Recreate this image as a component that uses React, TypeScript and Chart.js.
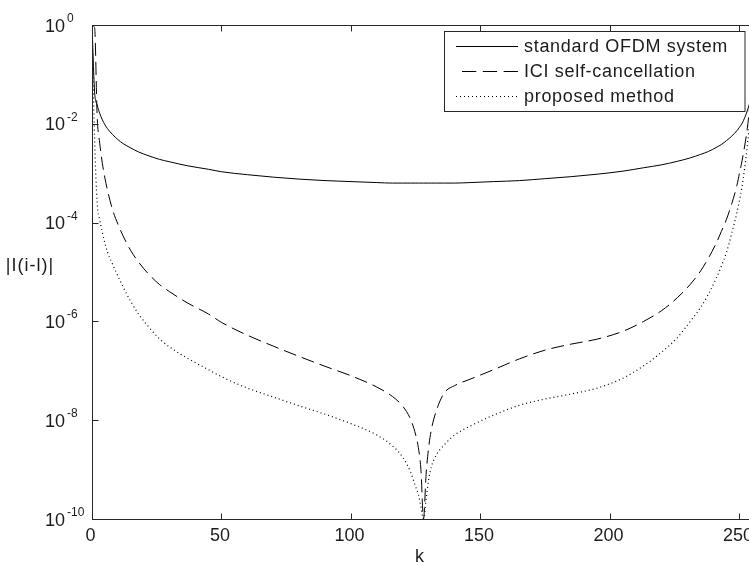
import React, { useEffect, useRef } from "react";
import { Chart, registerables } from "chart.js";

Chart.register(...registerables);

// subcarrier index k
const kValues = [
  0, 1, 2, 3, 4, 5, 6, 8, 10, 12, 15, 18, 22, 26, 30, 37, 45, 50, 60, 70, 80, 90, 100, 110,
  116, 120, 123, 125, 126, 127, 128, 129, 130, 131, 133, 136, 140,
  146, 155, 165, 175, 185, 195, 205, 213, 220, 226, 231, 235, 238, 241, 243, 245, 247, 249, 250, 251, 252, 253, 254, 255,
];

const standardOFDM = [
  9.77e-1, 4.47e-2, 2.4e-2, 1.62e-2, 1.2e-2, 9.55e-3, 7.94e-3, 6.03e-3, 4.79e-3, 3.98e-3, 3.24e-3, 2.69e-3,
  2.24e-3, 1.91e-3, 1.7e-3, 1.41e-3, 1.2e-3, 1.07e-3, 9.33e-4, 8.32e-4, 7.59e-4, 7.08e-4, 6.76e-4, 6.46e-4,
  6.31e-4, 6.31e-4, 6.31e-4, 6.31e-4, 6.31e-4, 6.31e-4, 6.31e-4, 6.31e-4, 6.31e-4, 6.31e-4, 6.31e-4, 6.31e-4, 6.31e-4,
  6.46e-4, 6.76e-4, 7.08e-4, 7.76e-4, 8.51e-4, 9.55e-4, 1.1e-3, 1.29e-3, 1.48e-3, 1.74e-3, 2.04e-3, 2.4e-3,
  2.75e-3, 3.31e-3, 3.8e-3, 4.57e-3, 5.62e-3, 7.24e-3, 8.51e-3, 1.02e-2, 1.32e-2, 1.82e-2, 2.75e-2, 5.25e-2,
];

const iciSelfCancellation = [
  9.77e-1, 8.91e-1, 1.41e-2, 3.98e-3, 1.58e-3, 7.94e-4, 4.47e-4, 1.78e-4, 9.33e-5, 5.37e-5, 2.69e-5, 1.58e-5,
  8.91e-6, 5.62e-6, 3.98e-6, 2.34e-6, 1.41e-6, 9.55e-7, 5.25e-7, 3.16e-7, 1.95e-7, 1.23e-7, 7.94e-8, 4.68e-8,
  3.02e-8, 1.91e-8, 1.05e-8, 5.01e-9, 2.82e-9, 1.0e-9, 1.0e-10, 7.94e-10, 2.82e-9, 6.31e-9, 1.58e-8, 3.55e-8, 5.01e-8,
  6.76e-8, 1.05e-7, 1.74e-7, 2.63e-7, 3.47e-7, 4.37e-7, 6.31e-7, 1.0e-6, 1.66e-6, 3.02e-6, 5.62e-6, 1.05e-5,
  1.91e-5, 3.8e-5, 6.61e-5, 1.17e-4, 2.4e-4, 5.62e-4, 1.0e-3, 1.78e-3, 3.55e-3, 7.94e-3, 2.51e-2, 2.51e-1,
];

const proposedMethod = [
  9.77e-1, 5.01e-3, 2.51e-4, 1.12e-4, 6.31e-5, 3.8e-5, 2.51e-5, 1.41e-5, 8.32e-6, 5.01e-6, 2.51e-6, 1.41e-6,
  7.59e-7, 4.47e-7, 3.02e-7, 1.78e-7, 1.05e-7, 7.59e-8, 4.47e-8, 2.95e-8, 1.95e-8, 1.32e-8, 8.51e-9, 5.01e-9,
  3.02e-9, 1.78e-9, 8.91e-10, 4.47e-10, 3.16e-10, 1.78e-10, 1.0e-10, 2.51e-10, 6.31e-10, 1.12e-9, 2.0e-9, 3.16e-9, 5.01e-9,
  7.59e-9, 1.26e-8, 2.0e-8, 2.69e-8, 3.39e-8, 4.47e-8, 7.08e-8, 1.26e-7, 2.4e-7, 4.68e-7, 1.0e-6, 1.91e-6,
  3.55e-6, 7.41e-6, 1.32e-5, 2.51e-5, 6.03e-5, 1.58e-4, 2.82e-4, 5.37e-4, 1.26e-3, 3.55e-3, 1.26e-2, 1.26e-1,
];

const seriesLabels = ["standard OFDM system", "ICI self-cancellation", "proposed method"];
const xTicks = [0, 50, 100, 150, 200, 250];
const yTickValues = [1, 1e-2, 1e-4, 1e-6, 1e-8, 1e-10];
const yTickExponents = ["0", "-2", "-4", "-6", "-8", "-10"];
const xTitle = "k";
const yTitle = "|I(i-l)|";

const FONT = "'Liberation Sans', Arial, Helvetica, sans-serif";
const INK = "#1c1c1c";
const dashes: number[][] = [[], [13, 6], [1, 3]];

const matlabAxes = {
  id: "matlabAxes",
  afterDatasetsDraw(chart: any) {
    const { ctx, chartArea: a, scales } = chart;
    const xs = scales.x;
    const ys = scales.y;
    ctx.save();
    ctx.strokeStyle = "#262626";
    ctx.lineWidth = 1;
    ctx.setLineDash([]);
    const L = Math.round(a.left) + 0.5;
    const T = Math.round(a.top) + 0.5;
    const R = Math.round(a.right) + 0.5;
    const B = Math.round(a.bottom) + 0.5;
    ctx.strokeRect(L, T, R - L, B - T);
    const tl = 6;
    ctx.beginPath();
    xTicks.forEach((v) => {
      const px = Math.round(xs.getPixelForValue(v)) + 0.5;
      ctx.moveTo(px, B);
      ctx.lineTo(px, B - tl);
      ctx.moveTo(px, T);
      ctx.lineTo(px, T + tl);
    });
    yTickValues.forEach((v) => {
      const py = Math.round(ys.getPixelForValue(v)) + 0.5;
      ctx.moveTo(L, py);
      ctx.lineTo(L + tl, py);
      ctx.moveTo(R, py);
      ctx.lineTo(R - tl, py);
    });
    ctx.stroke();

    // tick labels
    ctx.fillStyle = INK;
    ctx.font = `18px ${FONT}`;
    ctx.textAlign = "center";
    ctx.textBaseline = "alphabetic";
    xTicks.forEach((v) => {
      ctx.fillText(String(v), xs.getPixelForValue(v) - 1.5, a.bottom + 22);
    });
    yTickValues.forEach((v, i) => {
      const py = ys.getPixelForValue(v);
      ctx.textAlign = "left";
      ctx.font = `18px ${FONT}`;
      ctx.fillText("10", a.left - 47, py + 6.5);
      ctx.font = `12px ${FONT}`;
      ctx.fillText(yTickExponents[i], a.left - 25, py - 3);
    });

    // axis titles
    ctx.font = `18px ${FONT}`;
    ctx.textAlign = "center";
    ctx.fillText(xTitle, (a.left + a.right) / 2 - 4, a.bottom + 43);
    (ctx as any).letterSpacing = "1px";
    ctx.fillText(yTitle, a.left - 62, 271);
    (ctx as any).letterSpacing = "0px";

    // legend
    const lx = 444.5;
    const ly = a.top + 6.5;
    const lw = a.right - 10 - lx;
    const lh = 80;
    ctx.fillStyle = "#fff";
    ctx.fillRect(lx, ly, lw, lh);
    ctx.strokeStyle = "#262626";
    ctx.lineWidth = 1;
    ctx.strokeRect(lx, ly, lw, lh);
    const rows = [ly + 14, ly + 39, ly + 64];
    chart.data.datasets.forEach((ds: any, i: number) => {
      const yy = Math.round(rows[i]) + 0.5;
      ctx.strokeStyle = "#000";
      ctx.lineWidth = i === 2 ? 1.2 : 1;
      ctx.setLineDash(i === 1 ? [14.3, 6.5] : dashes[i]);
      ctx.beginPath();
      ctx.moveTo(i === 1 ? 462 : 456, yy);
      ctx.lineTo(518, yy);
      ctx.stroke();
      ctx.setLineDash([]);
      ctx.fillStyle = INK;
      ctx.font = `18px ${FONT}`;
      ctx.textAlign = "left";
      ctx.textBaseline = "middle";
      (ctx as any).letterSpacing = "0.7px";
      ctx.fillText(ds.label, 524, yy + 1);
      (ctx as any).letterSpacing = "0px";
    });
    ctx.restore();
  },
};

export default function App() {
  const canvasRef = useRef<HTMLCanvasElement | null>(null);

  useEffect(() => {
    const canvas = canvasRef.current;
    if (!canvas) return;
    const seriesValues = [standardOFDM, iciSelfCancellation, proposedMethod];
    const chart = new Chart(canvas, {
      type: "line",
      data: {
        datasets: seriesValues.map((vals, i) => ({
          label: seriesLabels[i],
          data: kValues.map((k, j) => ({ x: k, y: vals[j] })),
          borderColor: "#000",
          borderWidth: i === 2 ? 1.2 : 1,
          borderDash: dashes[i],
          pointRadius: 0,
          fill: false,
          cubicInterpolationMode: "monotone" as const,
        })),
      },
      options: {
        responsive: false,
        animation: false,
        events: [],
        layout: { padding: { left: 92, top: 25, right: 15, bottom: 46 } },
        plugins: { legend: { display: false }, tooltip: { enabled: false } },
        scales: {
          x: { type: "linear", min: 0, max: 256, display: false },
          y: { type: "logarithmic", min: 1e-10, max: 1, display: false },
        },
      },
      plugins: [matlabAxes],
    });
    return () => chart.destroy();
  }, []);

  return (
    <div
      style={{
        position: "fixed",
        left: 0,
        top: 0,
        width: 749,
        height: 565,
        overflow: "hidden",
        background: "#fff",
      }}
    >
      <canvas ref={canvasRef} width={770} height={565} style={{ display: "block" }} />
    </div>
  );
}
